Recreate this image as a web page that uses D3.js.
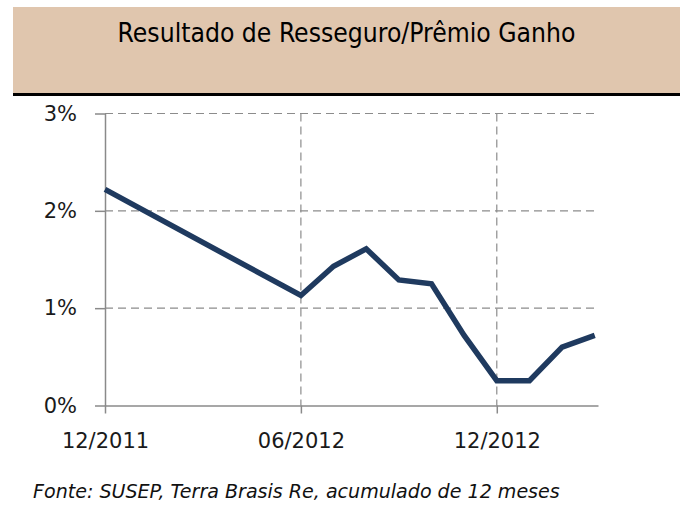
<!DOCTYPE html>
<html>
<head>
<meta charset="utf-8">
<script src="https://cdn.jsdelivr.net/npm/d3@7"></script>
<style>
  body { margin: 0; background: #fff; }
  svg { display: block; }
</style>
</head>
<body>
<script>
// dados (em %)
var months = ["12/2011","06/2012","07/2012","08/2012","09/2012","10/2012","11/2012","12/2012","01/2013","02/2013","03/2013"];
var values = [2.22, 1.13, 1.43, 1.61, 1.29, 1.25, 0.72, 0.255, 0.255, 0.60, 0.72];
var xTicks = ["12/2011","06/2012","12/2012"];
var yTicks = [0, 1, 2, 3];
var title = "Resultado de Resseguro/Prêmio Ganho";
var source = "Fonte: SUSEP, Terra Brasis Re, acumulado de 12 meses";

var W = 680, H = 507;
var margin = {top: 113.5, right: 82, bottom: 101.5, left: 105};

var parse = d3.timeParse("%m/%Y");
var start = parse(months[0]);
function idx(m) { return d3.timeMonth.count(start, parse(m)); }

var svg = d3.select("body").append("svg")
  .attr("width", W)
  .attr("height", H);

// cabeçalho
svg.append("rect")
  .attr("x", 13).attr("y", 7)
  .attr("width", W - 13).attr("height", 86)
  .attr("fill", "#e0c6ae");
svg.append("rect")
  .attr("x", 13).attr("y", 93)
  .attr("width", W - 13).attr("height", 3)
  .attr("fill", "#000");

function fitText(sel, target) {
  var len = sel.node().getComputedTextLength();
  var fs = parseFloat(sel.attr("font-size"));
  sel.attr("font-size", fs * target / len);
}

var t = svg.append("text")
  .attr("x", 346.5).attr("y", 42.3)
  .attr("text-anchor", "middle")
  .attr("font-family", "DejaVu Sans Condensed, DejaVu Sans, sans-serif")
  .attr("font-size", 24)
  .attr("fill", "#000")
  .text(title);
fitText(t, 458);

var x = d3.scaleLinear()
  .domain([0, 15.1])
  .range([margin.left, W - margin.right]);
var y = d3.scaleLinear()
  .domain([0, 3])
  .range([H - margin.bottom, margin.top]);

// grade
var grid = svg.append("g")
  .attr("stroke", "#8c8c8c")
  .attr("stroke-width", 1.2)
  .attr("stroke-dasharray", "8,5");
grid.selectAll("line.h").data(yTicks.filter(function(d){ return d > 0; })).enter().append("line")
  .attr("class", "h")
  .attr("x1", x(0)).attr("x2", x(15.1))
  .attr("y1", function(d){ return y(d); })
  .attr("y2", function(d){ return y(d); });
grid.selectAll("line.v").data(xTicks.slice(1)).enter().append("line")
  .attr("class", "v")
  .attr("x1", function(d){ return x(idx(d)); })
  .attr("x2", function(d){ return x(idx(d)); })
  .attr("y1", y(3)).attr("y2", y(0));

// eixos
var xAxis = svg.append("g")
  .attr("transform", "translate(0," + y(0) + ")")
  .call(d3.axisBottom(x)
    .tickValues(xTicks.map(idx))
    .tickFormat(function(d, i){ return xTicks[i]; })
    .tickSize(8).tickSizeOuter(0).tickPadding(20));

var yAxis = svg.append("g")
  .attr("transform", "translate(" + x(0) + ",0)")
  .call(d3.axisLeft(y)
    .tickValues(yTicks)
    .tickFormat(function(d){ return d + "%"; })
    .tickSize(10).tickSizeOuter(0).tickPadding(18));

[xAxis, yAxis].forEach(function(a){
  a.select(".domain").attr("stroke", "#8a8a8a").attr("stroke-width", 1.5);
  a.selectAll(".tick line").attr("stroke", "#8a8a8a").attr("stroke-width", 1.5);
  a.selectAll("text")
    .attr("font-family", "DejaVu Sans, sans-serif")
    .attr("font-size", 21)
    .attr("fill", "#1a1a1a");
});

// linha
var line = d3.line()
  .x(function(d, i){ return x(idx(months[i])); })
  .y(function(d){ return y(d); });

svg.append("path")
  .datum(values)
  .attr("fill", "none")
  .attr("stroke", "#1f3a5f")
  .attr("stroke-width", 5.5)
  .attr("stroke-linejoin", "miter")
  .attr("d", line);

// fonte
var f = svg.append("text")
  .attr("x", 33).attr("y", 498)
  .attr("font-family", "DejaVu Sans, sans-serif")
  .attr("font-style", "italic")
  .attr("font-size", 20)
  .attr("fill", "#111")
  .text(source);
fitText(f, 527);
</script>
</body>
</html>
